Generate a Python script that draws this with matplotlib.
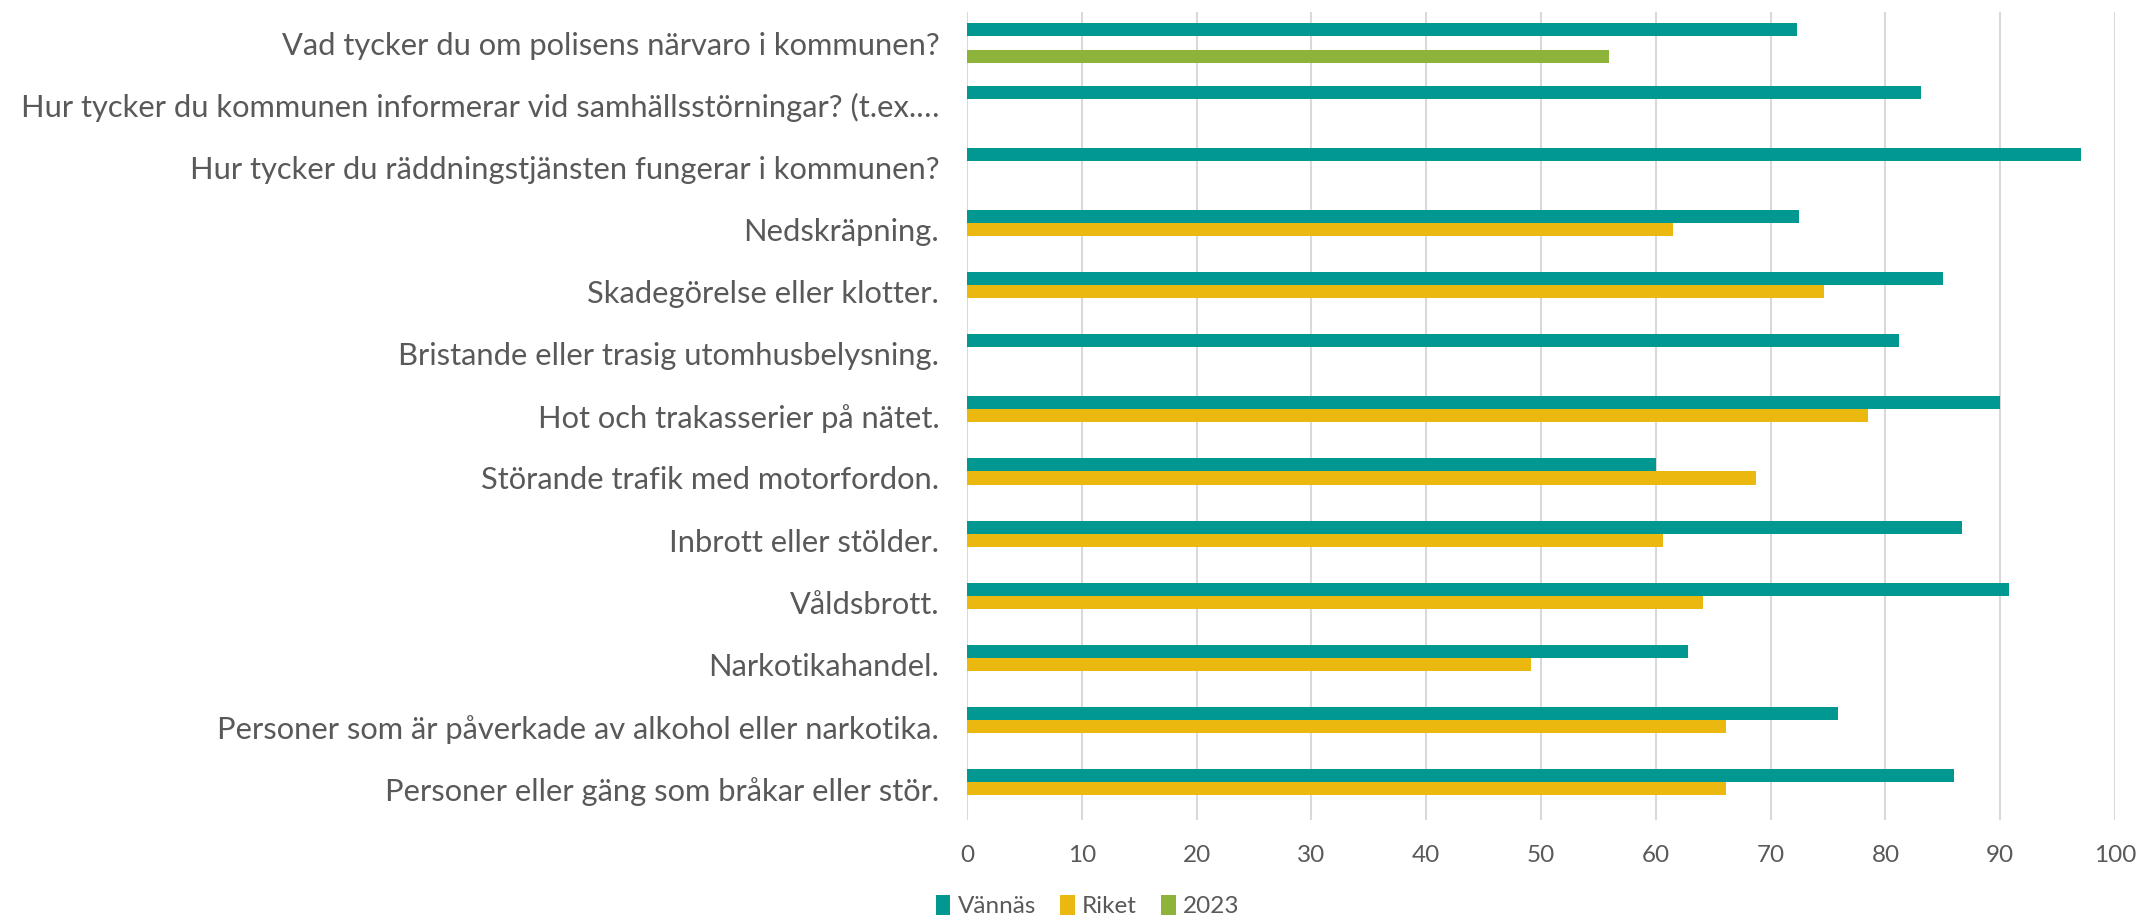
import matplotlib.pyplot as plt
import numpy as np

categories = [
    'Vad tycker du om polisens närvaro i kommunen?',
    'Hur tycker du kommunen informerar vid samhällsstörningar? (t.ex.…',
    'Hur tycker du räddningstjänsten fungerar i kommunen?',
    'Nedskräpning.',
    'Skadegörelse eller klotter.',
    'Bristande eller trasig utomhusbelysning.',
    'Hot och trakasserier på nätet.',
    'Störande trafik med motorfordon.',
    'Inbrott eller stölder.',
    'Våldsbrott.',
    'Narkotikahandel.',
    'Personer som är påverkade av alkohol eller narkotika.',
    'Personer eller gäng som bråkar eller stör.',
]
vannas = [72.3, 83.1, 97.0, 72.5, 85.0, 81.2, 90.0, 60.0, 86.7, 90.8, 62.8, 75.9, 86.0]
riket = [np.nan, np.nan, np.nan, 61.5, 74.6, np.nan, 78.5, 68.7, 60.6, 64.1, 49.1, 66.1, 66.1]
y2023 = [55.9, np.nan, np.nan, np.nan, np.nan, np.nan, np.nan, np.nan, np.nan, np.nan, np.nan, np.nan, np.nan]

text_color = '#595959'
plt.rcParams['font.family'] = ['Lato', 'DejaVu Sans']

fig = plt.figure(figsize=(21.41, 9.19), dpi=100)
ax = fig.add_axes([0.4517, 0.108, 0.5362, 0.879])

y = np.arange(len(categories))
h = 0.21
ax.barh(y - h, vannas, height=h, color='#009891', label='Vännäs', zorder=3)
ax.barh(y, riket, height=h, color='#EBB810', label='Riket', zorder=3)
ax.barh(y + h, y2023, height=h, color='#8DB33B', label='2023', zorder=3)

ax.set_ylim(len(categories) - 0.5, -0.5)
ax.set_xlim(0, 100)
ax.set_xticks(range(0, 101, 10))
ax.set_yticks(y)
ax.set_yticklabels(categories)
ax.tick_params(axis='y', length=0, pad=20, labelsize=22.2, labelcolor=text_color)
ax.tick_params(axis='x', length=0, pad=18, labelsize=17.5, labelcolor=text_color)
ax.grid(axis='x', color='#D9D9D9', linewidth=1.5, zorder=0)
for s in ax.spines.values():
    s.set_visible(False)

fig.legend(loc='center', bbox_to_anchor=(0.508, 0.014), ncol=3, frameon=False,
           fontsize=17.5, labelcolor=text_color, handlelength=0.6, handleheight=0.9,
           handletextpad=0.3, columnspacing=1.0)

fig.savefig('out.png', dpi=100)
